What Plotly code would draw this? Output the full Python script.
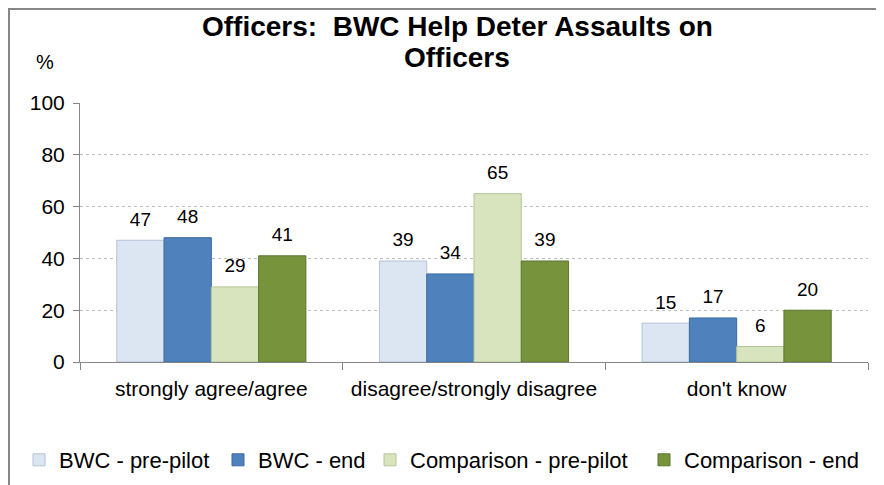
import plotly.graph_objects as go

categories = ["strongly agree/agree", "disagree/strongly disagree", "don't know"]
bwc_pre = [47, 39, 15]
bwc_end = [48, 34, 17]
comp_pre = [29, 65, 6]
comp_end = [41, 39, 20]
series_names = ["BWC - pre-pilot", "BWC - end", "Comparison - pre-pilot", "Comparison - end"]
y_ticks = [0, 20, 40, 60, 80, 100]
title_lines = ["Officers:  BWC Help Deter Assaults on", "Officers"]

fills = ["#dce6f2", "#4f81bd", "#d7e4bd", "#77933c"]
edges = ["#b4c2d6", "#3b6aa3", "#b5c596", "#5d7630"]
legend_ids = ["legend", "legend2", "legend3", "legend4"]
legend_text_x = [59, 258, 410, 684]   # window px where each legend label starts

# page body has an 8px margin: figure covers window pixels 8..884 / 8..485
OFF = 8
W, H = 884 - OFF, 485 - OFF
L, R, T, B = 80 - OFF, 16, 103 - OFF, 123
pw, ph = W - L - R, H - T - B

def px_x(x):  # x given in window pixels
    return (x - OFF - L) / pw

def px_y(y):  # y given in window pixels
    return (H - B - (y - OFF)) / ph

BARGAP = 0.28
fig = go.Figure()
all_vals = [bwc_pre, bwc_end, comp_pre, comp_end]
for name, vals, fc, ec, lg in zip(series_names, all_vals, fills, edges, legend_ids):
    fig.add_trace(go.Bar(
        x=categories, y=vals, name=name, legend=lg,
        marker=dict(color=fc, line=dict(color=ec, width=1)),
    ))
for name, vals in zip(series_names, all_vals):
    fig.add_trace(go.Scatter(
        x=categories, y=vals, mode="markers+text", showlegend=False,
        text=[str(v) for v in vals], textposition="top center",
        marker=dict(size=14, color="rgba(0,0,0,0)", line=dict(width=0)),
        textfont=dict(family="Liberation Sans, Arial", size=19, color="#000000"),
        cliponaxis=False, hoverinfo="skip",
    ))

legend_common = dict(orientation="h", xanchor="left", yref="container",
                     y=(H - (460 - OFF)) / H, yanchor="middle",
                     font=dict(size=22), itemwidth=30, bgcolor="rgba(0,0,0,0)",
                     xref="container")
legends = {}
for lg, tx in zip(legend_ids, legend_text_x):
    legends[lg] = dict(legend_common, x=(tx - 40 - OFF) / W)

fig.update_layout(
    width=W, height=H,
    margin=dict(l=L, r=R, t=T, b=B, autoexpand=False),
    paper_bgcolor="white", plot_bgcolor="white",
    barmode="group", bargap=BARGAP, bargroupgap=0,
    scattermode="group", scattergap=BARGAP,
    font=dict(family="Liberation Sans, Arial", size=20, color="#000000"),
    showlegend=True,
    xaxis=dict(
        showline=True, linecolor="#868686", linewidth=1,
        ticks="outside", tickson="boundaries", ticklen=7, tickcolor="#868686",
        tickfont=dict(size=21), showgrid=False, mirror=False, ticklabelstandoff=8,
    ),
    yaxis=dict(
        range=[0, 100], tickvals=y_ticks, ticktext=[str(v) for v in y_ticks],
        showline=True, linecolor="#868686", linewidth=1,
        ticks="outside", ticklen=6, tickcolor="#868686",
        showgrid=True, gridcolor="#bfbfbf", griddash="dot", gridwidth=1,
        tickfont=dict(size=21), zeroline=False, ticklabelstandoff=4,
    ),
    **legends,
)

for line, ycen in zip(title_lines, [27, 58]):
    fig.add_annotation(
        text="<b>" + line + "</b>",
        xref="paper", yref="paper", x=px_x(457), y=px_y(ycen),
        xanchor="center", yanchor="middle", showarrow=False,
        font=dict(family="Liberation Sans, Arial", size=28, color="#000000"),
    )
fig.add_annotation(
    text="%", xref="paper", yref="paper", x=px_x(45), y=px_y(62),
    xanchor="center", yanchor="middle", showarrow=False,
    font=dict(family="Liberation Sans, Arial", size=20, color="#000000"),
)
fx0, fx1, fy0, fy1 = px_x(9), px_x(910), px_y(510), px_y(9)
fig.add_shape(
    type="path", xref="paper", yref="paper",
    path=f"M {fx0} {fy0} L {fx0} {fy1} L {fx1} {fy1}",
    line=dict(color="#878787", width=2), layer="below",
)

fig.write_html("out.html")
